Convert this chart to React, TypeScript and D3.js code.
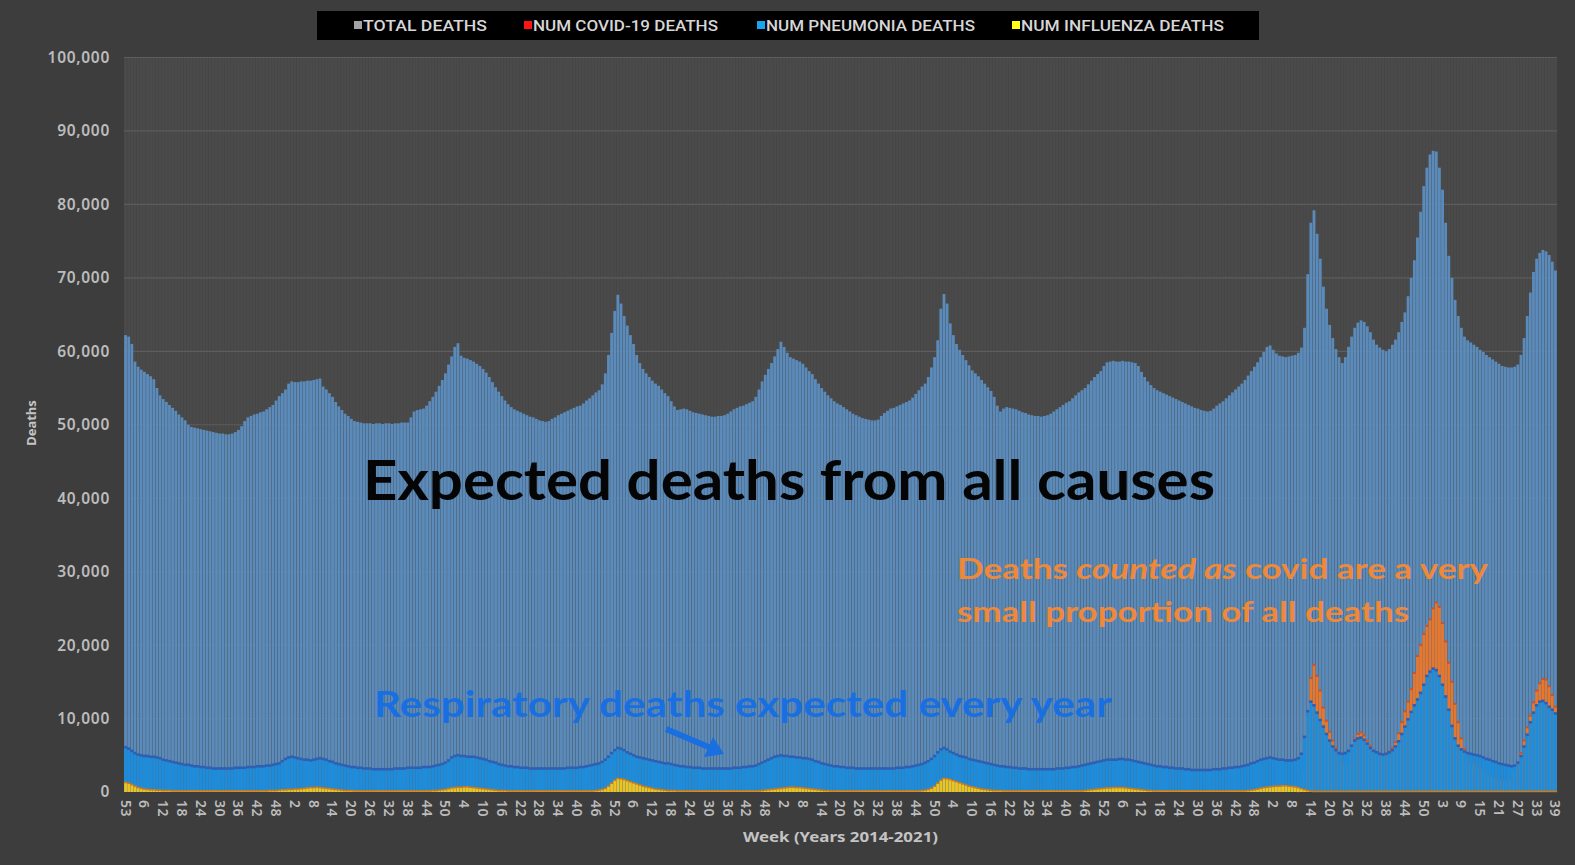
import { useEffect, useRef } from "react";
import * as d3 from "d3";

const WIDTH = 1575;
const HEIGHT = 865;
const PLOT = { left: 124, right: 1557, top: 57.5, bottom: 792 };

// first and last week number of each year block on the axis
const YEAR_WEEKS: [number, number][] = [
  [53, 53], [1, 52], [1, 52], [1, 52], [1, 52], [1, 52], [1, 52], [1, 52], [1, 53], [1, 39],
];

// weekly deaths in thousands, one row per year block
const TOTAL_DEATHS: number[][] = [
  [62.2],
  [62.0, 61.0, 58.6, 57.9, 57.5, 57.2, 56.9, 56.6, 56.2, 55.0, 54.0, 53.5, 53.1, 52.7, 52.3, 51.9, 51.4, 51.0, 50.6, 50.0,
    49.7, 49.6, 49.5, 49.4, 49.3, 49.2, 49.1, 49.0, 48.9, 48.8, 48.8, 48.7, 48.7, 48.8, 49.0, 49.3, 49.8, 50.5, 51.0, 51.2,
    51.4, 51.5, 51.7, 51.8, 52.1, 52.4, 52.7, 53.3, 53.9, 54.3, 54.8, 55.6],
  [55.9, 55.8, 55.8, 55.9, 55.9, 56.0, 56.0, 56.1, 56.2, 56.3, 55.2, 54.8, 54.3, 53.8, 53.1, 52.5, 52.0, 51.5, 51.2, 50.8,
    50.5, 50.4, 50.3, 50.2, 50.2, 50.2, 50.1, 50.2, 50.2, 50.1, 50.2, 50.2, 50.1, 50.2, 50.2, 50.3, 50.3, 50.3, 51.0, 51.8,
    52.0, 52.1, 52.2, 52.6, 53.2, 53.8, 54.5, 55.3, 56.1, 57.0, 58.2, 59.3],
  [60.6, 61.1, 59.4, 59.1, 59.0, 58.8, 58.6, 58.3, 58.0, 57.6, 57.1, 56.5, 55.8, 55.1, 54.5, 53.9, 53.3, 52.8, 52.4, 52.1,
    51.9, 51.7, 51.5, 51.3, 51.1, 51.0, 50.8, 50.6, 50.5, 50.4, 50.5, 50.8, 51.0, 51.3, 51.5, 51.7, 51.9, 52.1, 52.3, 52.5,
    52.6, 52.9, 53.3, 53.6, 54.0, 54.4, 54.7, 55.5, 57.0, 59.5, 62.5, 65.5],
  [67.7, 66.5, 64.8, 63.5, 62.2, 61.0, 59.5, 58.4, 57.6, 57.0, 56.5, 56.0, 55.6, 55.3, 54.8, 54.3, 53.9, 53.2, 52.5, 52.0,
    52.1, 52.2, 52.1, 51.9, 51.7, 51.6, 51.5, 51.4, 51.3, 51.2, 51.1, 51.1, 51.2, 51.2, 51.3, 51.5, 51.8, 52.1, 52.3, 52.5,
    52.6, 52.8, 53.0, 53.2, 53.8, 54.8, 55.9, 56.8, 57.6, 58.4, 59.3, 60.3],
  [61.3, 60.6, 59.8, 59.2, 59.0, 58.8, 58.6, 58.3, 57.8, 57.3, 56.9, 56.2, 55.6, 55.0, 54.5, 54.0, 53.6, 53.2, 52.9, 52.7,
    52.4, 52.1, 51.8, 51.5, 51.3, 51.1, 50.9, 50.8, 50.7, 50.6, 50.6, 50.7, 51.2, 51.6, 51.9, 52.2, 52.3, 52.5, 52.7, 52.9,
    53.1, 53.3, 53.7, 54.2, 54.7, 55.2, 55.6, 56.5, 57.8, 59.2, 61.5, 65.8],
  [67.8, 66.5, 63.8, 62.2, 61.0, 60.2, 59.5, 58.8, 58.1, 57.4, 57.0, 56.6, 56.1, 55.6, 55.1, 54.6, 53.8, 52.6, 51.8, 52.2,
    52.4, 52.3, 52.2, 52.1, 51.9, 51.7, 51.6, 51.4, 51.3, 51.2, 51.2, 51.1, 51.2, 51.3, 51.5, 51.8, 52.1, 52.4, 52.7, 53.0,
    53.2, 53.6, 54.0, 54.4, 54.7, 55.0, 55.5, 56.0, 56.5, 56.9, 57.3, 58.0],
  [58.5, 58.6, 58.7, 58.6, 58.6, 58.7, 58.6, 58.6, 58.5, 58.4, 58.0, 57.2, 56.5, 55.9, 55.4, 55.0, 54.7, 54.5, 54.3, 54.1,
    53.9, 53.7, 53.5, 53.3, 53.1, 52.9, 52.7, 52.5, 52.3, 52.2, 52.0, 51.9, 51.8, 51.9, 52.2, 52.6, 52.9, 53.2, 53.6, 54.0,
    54.4, 54.8, 55.2, 55.6, 56.1, 56.7, 57.3, 57.9, 58.5, 59.2, 59.9, 60.6],
  [60.8, 60.2, 59.7, 59.4, 59.3, 59.2, 59.3, 59.4, 59.5, 59.8, 60.5, 63.2, 70.5, 77.5, 79.2, 76.0, 72.6, 68.8, 65.8, 63.6,
    61.8, 60.3, 59.2, 58.4, 59.2, 60.6, 62.0, 63.2, 63.9, 64.2, 64.0, 63.4, 62.6, 61.6, 60.9, 60.5, 60.2, 60.0, 60.3, 60.9,
    61.6, 62.6, 64.0, 65.3, 67.5, 70.0, 72.4, 75.5, 79.0, 82.5, 85.0, 86.8, 87.3],
  [87.2, 85.0, 82.0, 77.5, 73.0, 70.0, 67.0, 64.8, 63.2, 62.0, 61.5, 61.2, 60.9, 60.6, 60.2, 59.9, 59.5, 59.2, 58.9, 58.6,
    58.3, 58.0, 57.9, 57.8, 57.8, 57.9, 58.2, 59.5, 61.8, 64.8, 68.0, 70.8, 72.6, 73.4, 73.8, 73.6, 73.1, 72.2, 71.0],
];

const PNEUMONIA_DEATHS: number[][] = [
  [6.1],
  [5.9, 5.6, 5.3, 5.1, 5.0, 4.9, 4.9, 4.8, 4.8, 4.7, 4.6, 4.4, 4.3, 4.2, 4.1, 4.0, 3.9, 3.8, 3.7, 3.7,
    3.6, 3.5, 3.5, 3.4, 3.4, 3.3, 3.3, 3.2, 3.2, 3.2, 3.2, 3.2, 3.2, 3.2, 3.3, 3.3, 3.3, 3.3, 3.4, 3.4,
    3.4, 3.5, 3.5, 3.5, 3.6, 3.6, 3.7, 3.8, 3.9, 4.2, 4.5, 4.7],
  [4.8, 4.7, 4.6, 4.5, 4.4, 4.4, 4.3, 4.4, 4.5, 4.6, 4.5, 4.4, 4.2, 4.1, 3.9, 3.8, 3.7, 3.6, 3.5, 3.4,
    3.4, 3.3, 3.3, 3.2, 3.2, 3.2, 3.1, 3.1, 3.1, 3.1, 3.1, 3.1, 3.1, 3.2, 3.2, 3.2, 3.2, 3.3, 3.3, 3.3,
    3.3, 3.3, 3.4, 3.4, 3.4, 3.5, 3.6, 3.7, 3.8, 4.0, 4.3, 4.7],
  [4.9, 5.0, 4.9, 4.9, 4.8, 4.8, 4.8, 4.7, 4.6, 4.5, 4.4, 4.2, 4.1, 4.0, 3.8, 3.7, 3.6, 3.5, 3.5, 3.4,
    3.4, 3.3, 3.3, 3.3, 3.2, 3.2, 3.2, 3.2, 3.2, 3.2, 3.2, 3.2, 3.2, 3.2, 3.2, 3.2, 3.3, 3.3, 3.3, 3.3,
    3.4, 3.4, 3.5, 3.6, 3.7, 3.8, 3.9, 4.1, 4.4, 4.8, 5.3, 5.7],
  [6.0, 5.9, 5.7, 5.4, 5.2, 5.0, 4.8, 4.7, 4.6, 4.5, 4.4, 4.3, 4.2, 4.1, 4.0, 3.9, 3.9, 3.8, 3.7, 3.6,
    3.5, 3.5, 3.4, 3.4, 3.3, 3.3, 3.3, 3.2, 3.2, 3.2, 3.2, 3.2, 3.2, 3.2, 3.2, 3.2, 3.2, 3.3, 3.3, 3.3,
    3.4, 3.4, 3.5, 3.5, 3.6, 3.8, 4.0, 4.2, 4.4, 4.6, 4.8, 4.9],
  [5.0, 4.9, 4.9, 4.8, 4.8, 4.7, 4.7, 4.6, 4.6, 4.5, 4.4, 4.2, 4.1, 3.9, 3.8, 3.7, 3.6, 3.5, 3.5, 3.4,
    3.4, 3.3, 3.3, 3.3, 3.2, 3.2, 3.2, 3.2, 3.2, 3.2, 3.2, 3.2, 3.2, 3.2, 3.2, 3.2, 3.2, 3.3, 3.3, 3.3,
    3.4, 3.4, 3.5, 3.6, 3.7, 3.8, 4.0, 4.2, 4.5, 4.9, 5.4, 5.8],
  [6.0, 5.8, 5.5, 5.3, 5.1, 4.9, 4.8, 4.7, 4.5, 4.4, 4.3, 4.2, 4.1, 4.0, 3.9, 3.8, 3.7, 3.6, 3.5, 3.5,
    3.4, 3.4, 3.3, 3.3, 3.2, 3.2, 3.2, 3.1, 3.1, 3.1, 3.1, 3.1, 3.1, 3.1, 3.1, 3.1, 3.2, 3.2, 3.2, 3.3,
    3.3, 3.4, 3.4, 3.5, 3.6, 3.7, 3.8, 3.9, 4.0, 4.1, 4.2, 4.3],
  [4.4, 4.4, 4.4, 4.4, 4.5, 4.5, 4.4, 4.4, 4.3, 4.2, 4.1, 4.0, 3.9, 3.8, 3.7, 3.6, 3.5, 3.5, 3.4, 3.4,
    3.3, 3.3, 3.2, 3.2, 3.2, 3.1, 3.1, 3.0, 3.0, 3.0, 3.0, 3.0, 3.0, 3.0, 3.1, 3.1, 3.1, 3.2, 3.2, 3.3,
    3.3, 3.4, 3.4, 3.5, 3.6, 3.7, 3.9, 4.0, 4.2, 4.4, 4.5, 4.6],
  [4.7, 4.6, 4.5, 4.4, 4.4, 4.3, 4.3, 4.3, 4.4, 4.6, 5.2, 7.5, 11.0, 12.3, 11.8, 10.8, 9.8, 8.9, 7.9, 7.0,
    6.2, 5.7, 5.3, 5.2, 5.3, 5.6, 6.3, 7.0, 7.3, 7.4, 7.1, 6.6, 6.0, 5.6, 5.4, 5.2, 5.1, 5.2, 5.4, 5.7,
    6.2, 6.9, 7.9, 8.9, 9.9, 10.9, 11.8, 12.6, 13.5, 14.6, 15.8, 16.4, 16.8],
  [16.6, 15.8, 14.6, 13.0, 11.2, 9.0, 7.3, 6.3, 5.8, 5.5, 5.3, 5.2, 5.1, 5.0, 4.9, 4.7, 4.5, 4.4, 4.2, 4.1,
    3.9, 3.8, 3.7, 3.6, 3.5, 3.6, 4.0, 4.9, 6.2, 7.8, 9.5, 10.8, 11.8, 12.3, 12.4, 12.1, 11.6, 11.2, 10.7],
];

const INFLUENZA_DEATHS: number[][] = [
  [1.3],
  [1.2, 1.0, 0.8, 0.6, 0.5, 0.4, 0.35, 0.3, 0.3, 0.25, 0.25, 0.2, 0.2, 0.2, 0.15, 0.15, 0.15, 0.15, 0.15, 0.15,
    0.15, 0.15, 0.15, 0.15, 0.15, 0.15, 0.15, 0.15, 0.15, 0.15, 0.15, 0.15, 0.15, 0.15, 0.15, 0.15, 0.15, 0.15, 0.15, 0.15,
    0.15, 0.15, 0.15, 0.15, 0.15, 0.2, 0.2, 0.2, 0.25, 0.3, 0.3, 0.35],
  [0.35, 0.4, 0.4, 0.45, 0.5, 0.55, 0.6, 0.6, 0.65, 0.6, 0.55, 0.5, 0.45, 0.4, 0.35, 0.3, 0.25, 0.2, 0.2, 0.2,
    0.15, 0.15, 0.15, 0.15, 0.15, 0.15, 0.15, 0.15, 0.15, 0.15, 0.15, 0.15, 0.15, 0.15, 0.15, 0.15, 0.15, 0.15, 0.15, 0.15,
    0.15, 0.15, 0.15, 0.15, 0.15, 0.2, 0.2, 0.25, 0.3, 0.35, 0.45, 0.55],
  [0.6, 0.65, 0.65, 0.7, 0.7, 0.65, 0.6, 0.55, 0.5, 0.45, 0.4, 0.35, 0.3, 0.25, 0.2, 0.2, 0.2, 0.15, 0.15, 0.15,
    0.15, 0.15, 0.15, 0.15, 0.15, 0.15, 0.15, 0.15, 0.15, 0.15, 0.15, 0.15, 0.15, 0.15, 0.15, 0.15, 0.15, 0.15, 0.15, 0.15,
    0.15, 0.15, 0.15, 0.15, 0.15, 0.2, 0.25, 0.35, 0.5, 0.8, 1.2, 1.6],
  [1.85, 1.8, 1.7, 1.55, 1.4, 1.25, 1.1, 0.95, 0.8, 0.7, 0.6, 0.5, 0.4, 0.35, 0.3, 0.25, 0.2, 0.2, 0.2, 0.15,
    0.15, 0.15, 0.15, 0.15, 0.15, 0.15, 0.15, 0.15, 0.15, 0.15, 0.15, 0.15, 0.15, 0.15, 0.15, 0.15, 0.15, 0.15, 0.15, 0.15,
    0.15, 0.15, 0.15, 0.15, 0.15, 0.15, 0.2, 0.25, 0.3, 0.35, 0.4, 0.45],
  [0.5, 0.55, 0.6, 0.65, 0.65, 0.6, 0.6, 0.55, 0.5, 0.45, 0.4, 0.35, 0.3, 0.25, 0.2, 0.2, 0.15, 0.15, 0.15, 0.15,
    0.15, 0.15, 0.15, 0.15, 0.15, 0.15, 0.15, 0.15, 0.15, 0.15, 0.15, 0.15, 0.15, 0.15, 0.15, 0.15, 0.15, 0.15, 0.15, 0.15,
    0.15, 0.15, 0.15, 0.15, 0.15, 0.2, 0.25, 0.35, 0.5, 0.8, 1.2, 1.6],
  [1.85, 1.8, 1.7, 1.55, 1.4, 1.25, 1.1, 0.95, 0.8, 0.7, 0.6, 0.5, 0.4, 0.35, 0.3, 0.25, 0.2, 0.2, 0.2, 0.15,
    0.15, 0.15, 0.15, 0.15, 0.15, 0.15, 0.15, 0.15, 0.15, 0.15, 0.15, 0.15, 0.15, 0.15, 0.15, 0.15, 0.15, 0.15, 0.15, 0.15,
    0.15, 0.15, 0.15, 0.15, 0.15, 0.2, 0.25, 0.3, 0.35, 0.4, 0.45, 0.5],
  [0.55, 0.55, 0.6, 0.6, 0.6, 0.6, 0.55, 0.5, 0.45, 0.4, 0.35, 0.3, 0.25, 0.2, 0.2, 0.15, 0.15, 0.15, 0.15, 0.15,
    0.15, 0.15, 0.15, 0.15, 0.15, 0.15, 0.15, 0.15, 0.15, 0.15, 0.15, 0.15, 0.15, 0.15, 0.15, 0.15, 0.15, 0.15, 0.15, 0.15,
    0.15, 0.15, 0.15, 0.15, 0.15, 0.2, 0.25, 0.3, 0.4, 0.5, 0.6, 0.65],
  [0.7, 0.75, 0.8, 0.8, 0.85, 0.85, 0.8, 0.75, 0.7, 0.6, 0.45, 0.3, 0.2, 0.12, 0.08, 0.08, 0.08, 0.08, 0.08, 0.08,
    0.08, 0.08, 0.08, 0.08, 0.08, 0.08, 0.08, 0.08, 0.08, 0.08, 0.08, 0.08, 0.08, 0.08, 0.08, 0.08, 0.08, 0.08, 0.08, 0.08,
    0.08, 0.08, 0.08, 0.08, 0.08, 0.08, 0.08, 0.08, 0.08, 0.08, 0.08, 0.08, 0.08],
  [0.08, 0.08, 0.08, 0.08, 0.08, 0.08, 0.08, 0.08, 0.08, 0.08, 0.08, 0.08, 0.08, 0.08, 0.08, 0.08, 0.08, 0.08, 0.08, 0.08,
    0.08, 0.08, 0.08, 0.08, 0.08, 0.08, 0.08, 0.08, 0.08, 0.08, 0.08, 0.08, 0.08, 0.08, 0.08, 0.08, 0.08, 0.08, 0.08],
];

// covid is only reported for the last two year blocks
const COVID_FROM_BLOCK = 8;
const COVID_DEATHS: number[][] = [
  [0, 0, 0, 0, 0, 0, 0, 0, 0, 0.1, 0.6, 3.0, 10.5, 15.5, 17.3, 15.8, 13.8, 11.5, 9.7, 8.2,
    7.0, 6.0, 5.0, 4.2, 3.8, 4.0, 5.5, 7.2, 7.9, 8.1, 7.7, 7.0, 6.3, 5.6, 5.3, 5.0, 5.0, 5.2, 5.5, 6.0,
    6.8, 8.0, 9.5, 11.0, 12.3, 14.0, 16.2, 18.5, 20.0, 21.5, 22.6, 23.5, 25.0],
  [25.8, 25.2, 23.0, 20.5, 17.6, 15.0, 12.0, 9.5, 7.3, 5.8, 4.8, 4.2, 3.9, 3.6, 3.2, 2.9, 2.6, 2.3, 2.1, 1.9,
    1.7, 1.6, 1.6, 1.7, 2.0, 2.8, 3.8, 5.3, 7.0, 8.8, 10.4, 12.2, 13.8, 14.8, 15.4, 15.3, 14.4, 13.2, 11.6],
];

const Y_TICKS = [0, 10, 20, 30, 40, 50, 60, 70, 80, 90, 100];

const LEGEND = [
  { label: "TOTAL DEATHS", color: "#a3a3a3", x: 354, len: 124 },
  { label: "NUM COVID-19 DEATHS", color: "#ff1414", x: 524, len: 185 },
  { label: "NUM PNEUMONIA DEATHS", color: "#1aa3ef", x: 757, len: 209 },
  { label: "NUM INFLUENZA DEATHS", color: "#ffff1a", x: 1012, len: 203 },
];

const LABEL_FONT = "'Noto Sans', 'DejaVu Sans', sans-serif";
const NOTE_FONT = "Lato, 'Open Sans', sans-serif";

export default function App() {
  const svgRef = useRef<SVGSVGElement | null>(null);

  useEffect(() => {
    const svgEl = svgRef.current;
    if (!svgEl) {
      return;
    }
    const svg = d3.select(svgEl);
    svg.selectAll("*").remove();

    const weeks = YEAR_WEEKS.flatMap(([first, last]) => d3.range(first, last + 1));
    const idx = d3.range(weeks.length);
    const total = TOTAL_DEATHS.flat();
    const pneumonia = PNEUMONIA_DEATHS.flat();
    const influenza = INFLUENZA_DEATHS.flat();
    const covidStart = d3.sum(YEAR_WEEKS.slice(0, COVID_FROM_BLOCK), ([a, b]) => b - a + 1);
    const covidFlat = COVID_DEATHS.flat();
    const covid: (number | null)[] = idx.map((i) =>
      i < covidStart ? null : covidFlat[i - covidStart] ?? null
    );

    const x = d3
      .scaleBand<number>()
      .domain(idx)
      .range([PLOT.left, PLOT.right])
      .paddingInner(0.1)
      .paddingOuter(0.05);
    const y = d3.scaleLinear().domain([0, 100]).range([PLOT.bottom, PLOT.top]);

    svg.append("rect").attr("width", WIDTH).attr("height", HEIGHT).attr("fill", "#3d3d3d");

    // plot background columns
    svg
      .append("rect")
      .attr("x", PLOT.left)
      .attr("y", PLOT.top)
      .attr("width", PLOT.right - PLOT.left)
      .attr("height", PLOT.bottom - PLOT.top)
      .attr("fill", "#434343");
    svg
      .append("g")
      .selectAll("rect")
      .data(idx)
      .join("rect")
      .attr("x", (i) => x(i)!)
      .attr("width", x.bandwidth())
      .attr("y", PLOT.top)
      .attr("height", PLOT.bottom - PLOT.top)
      .attr("fill", "#4a4a4a");

    svg
      .append("g")
      .selectAll("line")
      .data(Y_TICKS.slice(1))
      .join("line")
      .attr("x1", PLOT.left)
      .attr("x2", PLOT.right)
      .attr("y1", (d) => y(d))
      .attr("y2", (d) => y(d))
      .attr("stroke", "#5d5d5d")
      .attr("stroke-width", 1.2);

    const drawBars = (values: (number | null)[], fill: string, cap?: string, capH = 2) => {
      const pts = idx.filter((i) => values[i] != null && (values[i] as number) > 0);
      const g = svg.append("g");
      g.selectAll("rect.bar")
        .data(pts)
        .join("rect")
        .attr("class", "bar")
        .attr("x", (i) => x(i)!)
        .attr("width", x.bandwidth())
        .attr("y", (i) => y(values[i] as number))
        .attr("height", (i) => y(0) - y(values[i] as number))
        .attr("fill", fill);
      if (cap) {
        g.selectAll("rect.cap")
          .data(pts)
          .join("rect")
          .attr("class", "cap")
          .attr("x", (i) => x(i)! - 0.3)
          .attr("width", x.step() + 0.2)
          .attr("y", (i) => y(values[i] as number) - capH / 2)
          .attr("height", capH)
          .attr("fill", cap);
      }
    };

    drawBars(total, "#5b8bbb");
    drawBars(covid, "#e8772e", "#c9542a", 2);
    drawBars(pneumonia, "#1b8ddc", "#2f5fb2", 2.6);
    drawBars(influenza, "#f0c21c", "#cc7a1c", 1.6);

    // y axis
    const yAxis = svg
      .append("g")
      .attr("transform", `translate(${PLOT.left},0)`)
      .call(
        d3
          .axisLeft(y)
          .tickValues(Y_TICKS)
          .tickSize(0)
          .tickPadding(14)
          .tickFormat((d) => d3.format(",")((d as number) * 1000))
      );
    yAxis.select(".domain").remove();
    yAxis
      .selectAll("text")
      .attr("fill", "#bcbcbc")
      .attr("font-family", LABEL_FONT)
      .attr("font-weight", 600)
      .attr("font-size", 15.5)
      .attr("letter-spacing", 0.7);

    // x axis, a label every sixth week
    const xAxis = svg
      .append("g")
      .attr("transform", `translate(0,${PLOT.bottom})`)
      .call(
        d3
          .axisBottom(x)
          .tickValues(idx.filter((i) => i % 6 === 0))
          .tickSize(0)
          .tickFormat((i) => String(weeks[i as number]))
      );
    xAxis.select(".domain").remove();
    xAxis
      .selectAll("text")
      .attr("transform", "rotate(90)")
      .attr("x", 8)
      .attr("y", 0)
      .attr("dy", "0.36em")
      .attr("text-anchor", "start")
      .attr("fill", "#bcbcbc")
      .attr("font-family", LABEL_FONT)
      .attr("font-weight", 600)
      .attr("font-size", 14)
      .attr("letter-spacing", 0.4);

    svg
      .append("text")
      .attr("transform", "translate(36,423) rotate(-90)")
      .attr("text-anchor", "middle")
      .attr("fill", "#c4c4c4")
      .attr("font-family", LABEL_FONT)
      .attr("font-weight", 700)
      .attr("font-size", 13)
      .text("Deaths");

    svg
      .append("text")
      .attr("x", 743)
      .attr("y", 842)
      .attr("textLength", 195)
      .attr("lengthAdjust", "spacingAndGlyphs")
      .attr("fill", "#c4c4c4")
      .attr("font-family", LABEL_FONT)
      .attr("font-weight", 700)
      .attr("font-size", 15)
      .text("Week (Years 2014-2021)");

    // legend
    svg
      .append("rect")
      .attr("x", 317)
      .attr("y", 11)
      .attr("width", 942)
      .attr("height", 29)
      .attr("fill", "#000");
    const items = svg.append("g").selectAll("g").data(LEGEND).join("g");
    items
      .append("rect")
      .attr("x", (d) => d.x)
      .attr("y", 21)
      .attr("width", 8)
      .attr("height", 8)
      .attr("fill", (d) => d.color);
    items
      .append("text")
      .attr("x", (d) => d.x + 9)
      .attr("y", 30.5)
      .attr("textLength", (d) => d.len)
      .attr("lengthAdjust", "spacingAndGlyphs")
      .attr("fill", "#d6d6d6")
      .attr("font-family", "Roboto, sans-serif")
      .attr("font-weight", 500)
      .attr("font-size", 14.5)
      .text((d) => d.label);

    // annotations
    svg
      .append("text")
      .attr("x", 363)
      .attr("y", 500)
      .attr("textLength", 852)
      .attr("lengthAdjust", "spacingAndGlyphs")
      .attr("fill", "#050505")
      .attr("font-family", NOTE_FONT)
      .attr("font-weight", 700)
      .attr("font-size", 55)
      .text("Expected deaths from all causes");

    const orange = svg
      .append("g")
      .attr("fill", "#ef8838")
      .attr("font-family", NOTE_FONT)
      .attr("font-weight", 700)
      .attr("font-size", 29);
    const line1 = orange
      .append("text")
      .attr("x", 957)
      .attr("y", 579)
      .attr("textLength", 531)
      .attr("lengthAdjust", "spacingAndGlyphs");
    line1.append("tspan").text("Deaths ");
    line1.append("tspan").attr("font-style", "italic").text("counted as");
    line1.append("tspan").text(" covid are a very");
    orange
      .append("text")
      .attr("x", 957)
      .attr("y", 622)
      .attr("textLength", 452)
      .attr("lengthAdjust", "spacingAndGlyphs")
      .text("small proportion of all deaths");

    svg
      .append("text")
      .attr("x", 374)
      .attr("y", 717)
      .attr("textLength", 738)
      .attr("lengthAdjust", "spacingAndGlyphs")
      .attr("fill", "#1a6fe0")
      .attr("font-family", NOTE_FONT)
      .attr("font-weight", 700)
      .attr("font-size", 37)
      .text("Respiratory deaths expected every year");

    svg
      .append("line")
      .attr("x1", 666)
      .attr("y1", 729)
      .attr("x2", 711)
      .attr("y2", 748)
      .attr("stroke", "#1a6fe0")
      .attr("stroke-width", 6);
    svg
      .append("path")
      .attr("d", "M724,754 L704,757 L713,737 Z")
      .attr("fill", "#1a6fe0");
  }, []);

  return (
    <svg
      ref={svgRef}
      width={WIDTH}
      height={HEIGHT}
      style={{ position: "absolute", left: 0, top: 0, display: "block" }}
    />
  );
}
